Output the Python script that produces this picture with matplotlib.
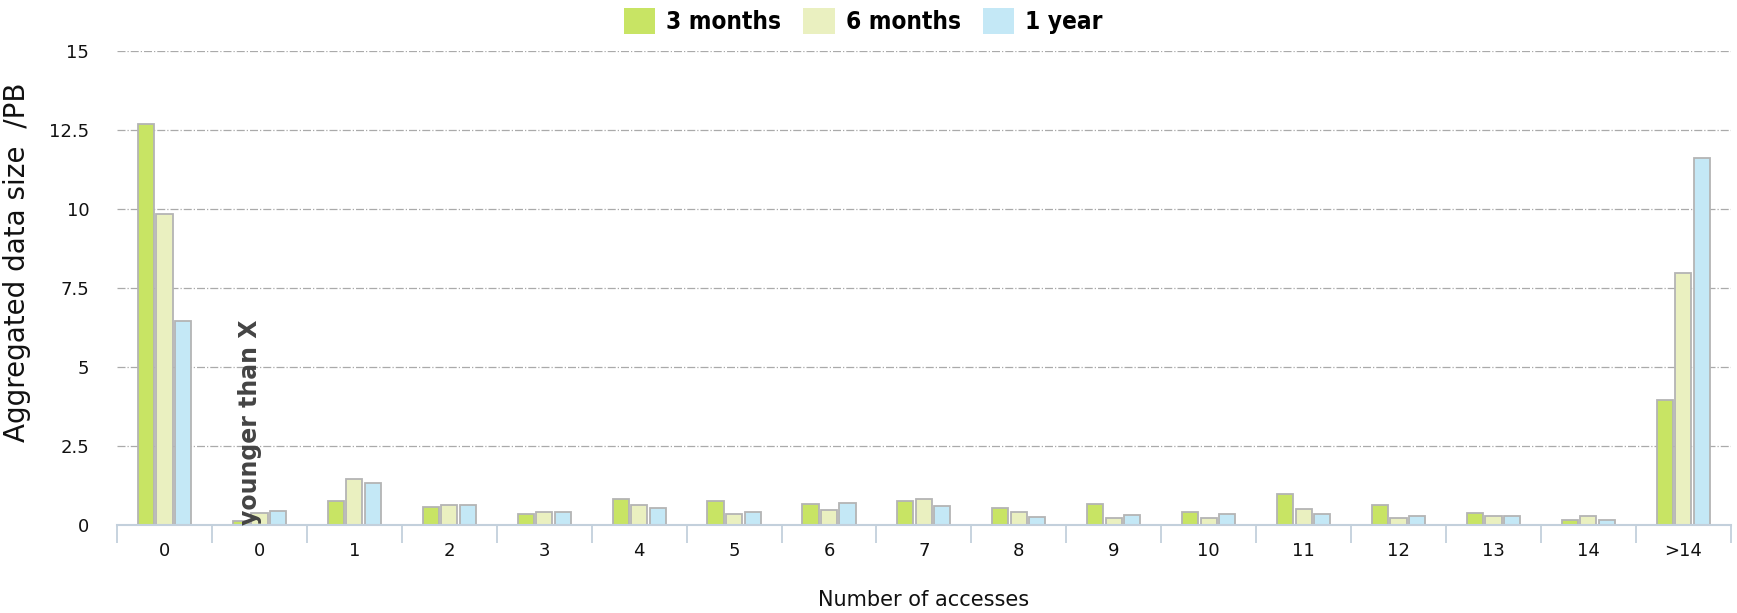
import matplotlib
matplotlib.use('Agg')
import matplotlib.pyplot as plt
import numpy as np

# access-count buckets (first one is the "younger than X" zero bucket)
categories = ['0', '0', '1', '2', '3', '4', '5', '6', '7', '8', '9', '10', '11', '12', '13', '14', '>14']
series_names = ['3 months', '6 months', '1 year']

three_months = [12.7, 0.11, 0.76, 0.58, 0.34, 0.81, 0.77, 0.65, 0.76, 0.53, 0.65, 0.41, 0.98, 0.64, 0.39, 0.16, 3.97]
six_months = [9.83, 0.39, 1.45, 0.63, 0.40, 0.63, 0.35, 0.47, 0.82, 0.41, 0.23, 0.23, 0.50, 0.22, 0.28, 0.28, 7.98]
one_year = [6.44, 0.45, 1.33, 0.63, 0.40, 0.53, 0.41, 0.71, 0.59, 0.24, 0.30, 0.35, 0.34, 0.28, 0.28, 0.16, 11.6]

colors = ['#c8e464', '#eaf0c0', '#c4e8f6']
edge = '#b4b4b4'
axis_col = '#c3d0dc'

fig = plt.figure(figsize=(17.37, 6.13), dpi=100)
ax = fig.add_axes([0.0674, 0.1436, 0.929, 0.7732])

x = np.arange(len(categories))
w = 0.17
step = 0.195
for i, (vals, name) in enumerate(zip([three_months, six_months, one_year], series_names)):
    ax.bar(x + (i - 1) * step, vals, width=w, color=colors[i], edgecolor=edge,
           linewidth=1.3, label=name, zorder=3)

ax.set_xlim(-0.5, len(categories) - 0.5)
ax.set_ylim(0, 15)
ax.set_yticks([0, 2.5, 5, 7.5, 10, 12.5, 15])
ax.set_yticklabels(['0', '2.5', '5', '7.5', '10', '12.5', '15'])
ax.yaxis.grid(True, color='#aaaaaa', linestyle='-.', linewidth=0.9, zorder=0)
ax.set_axisbelow(True)

ax.set_xticks(x)
ax.set_xticklabels(categories)
ax.set_xticks(np.arange(len(categories) + 1) - 0.5, minor=True)
ax.tick_params(axis='x', which='major', length=0, pad=12, labelsize=13, colors='#111111')
ax.tick_params(axis='x', which='minor', length=13, width=1.3, color=axis_col)
ax.tick_params(axis='y', length=0, pad=20, labelsize=13, colors='#111111')

for s in ['top', 'right', 'left']:
    ax.spines[s].set_visible(False)
ax.spines['bottom'].set_color(axis_col)
ax.spines['bottom'].set_linewidth(1.5)
ax.spines['bottom'].set_zorder(4)

ax.set_xlabel('Number of accesses', fontsize=15, labelpad=22, color='#111111')
ax.set_ylabel('Aggregated data size  /PB', fontsize=20, color='#111111')
ax.yaxis.set_label_coords(-0.0535, 0.555)

ax.text(0.9, 0.0, 'younger than X', rotation=90, ha='center', va='bottom',
        fontsize=17, fontweight='bold', color='#444444', zorder=5)

leg = fig.legend(loc='center', bbox_to_anchor=(0.497, 0.966), ncol=3, frameon=False,
                 handlelength=1.3, handleheight=1.3, handletextpad=0.45,
                 columnspacing=0.9,
                 prop={'family': 'DejaVu Sans', 'stretch': 'condensed',
                       'weight': 'bold', 'size': 17.5})
for h in leg.legend_handles:
    h.set_edgecolor('none')

fig.savefig('out.png', dpi=100)
